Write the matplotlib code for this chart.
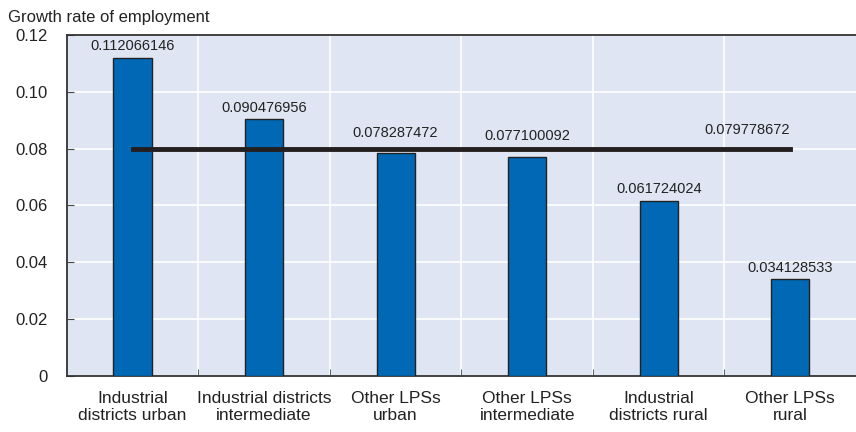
import matplotlib
matplotlib.use('Agg')
import matplotlib.pyplot as plt
import numpy as np

plt.rcParams['font.family'] = ['Liberation Sans', 'DejaVu Sans']

categories = ['Industrial\ndistricts urban', 'Industrial districts\nintermediate',
              'Other LPSs\nurban', 'Other LPSs\nintermediate',
              'Industrial\ndistricts rural', 'Other LPSs\nrural']
values = [0.112066146, 0.090476956, 0.078287472, 0.077100092, 0.061724024, 0.034128533]
average = 0.079778672

fig = plt.figure(figsize=(8.56, 4.32), dpi=100)
ax = fig.add_axes([0.078, 0.13, 0.922, 0.789])
ax.set_facecolor('#dfe5f2')

x = np.arange(len(categories))
ax.bar(x, values, width=0.29, color='#0068b5', edgecolor='#222222', linewidth=1, zorder=3)
for xi, v in zip(x, values):
    # labels just under the average line are lifted above it
    off = 0.0048 if abs(v - average) < 0.004 else 0.0015
    ax.text(xi, v + off, f'{v:.9f}', ha='center', va='bottom', fontsize=10.5, color='#222222', zorder=4)

ax.plot([x[0], x[-1]], [average, average], color='#231f20', linewidth=3.5, zorder=5)
ax.text(x[-1], average + 0.0042, f'{average:.9f}', ha='right', va='bottom', fontsize=10.5, color='#222222', zorder=4)

ax.set_xlim(-0.5, len(categories) - 0.5)
ax.set_ylim(0, 0.12)
ax.set_yticks([0, 0.02, 0.04, 0.06, 0.08, 0.10, 0.12])
ax.set_yticklabels(['0', '0.02', '0.04', '0.06', '0.08', '0.10', '0.12'], fontsize=12, color='#222222')
ax.set_xticks(x)
ax.set_xticklabels(categories, fontsize=12.5, color='#222222', linespacing=1.15)
ax.tick_params(axis='x', length=0, pad=11)
ax.set_xticks(x[:-1] + 0.5, minor=True)
ax.tick_params(axis='x', which='minor', direction='in', length=5, color='#444444')
ax.tick_params(axis='y', direction='in', length=5, color='#444444', pad=14)

ax.grid(True, which='minor', axis='x', color='white', linewidth=1.2, zorder=0)
ax.grid(True, which='major', axis='y', color='white', linewidth=1.2, zorder=0)
ax.set_axisbelow(True)

ax.spines['right'].set_visible(False)
for s in ['left', 'bottom', 'top']:
    ax.spines[s].set_color('#333333')
    ax.spines[s].set_linewidth(1.3)

fig.text(0.009, 0.978, 'Growth rate of employment', ha='left', va='top', fontsize=12, color='#222222')

fig.savefig('out.png', dpi=100)
